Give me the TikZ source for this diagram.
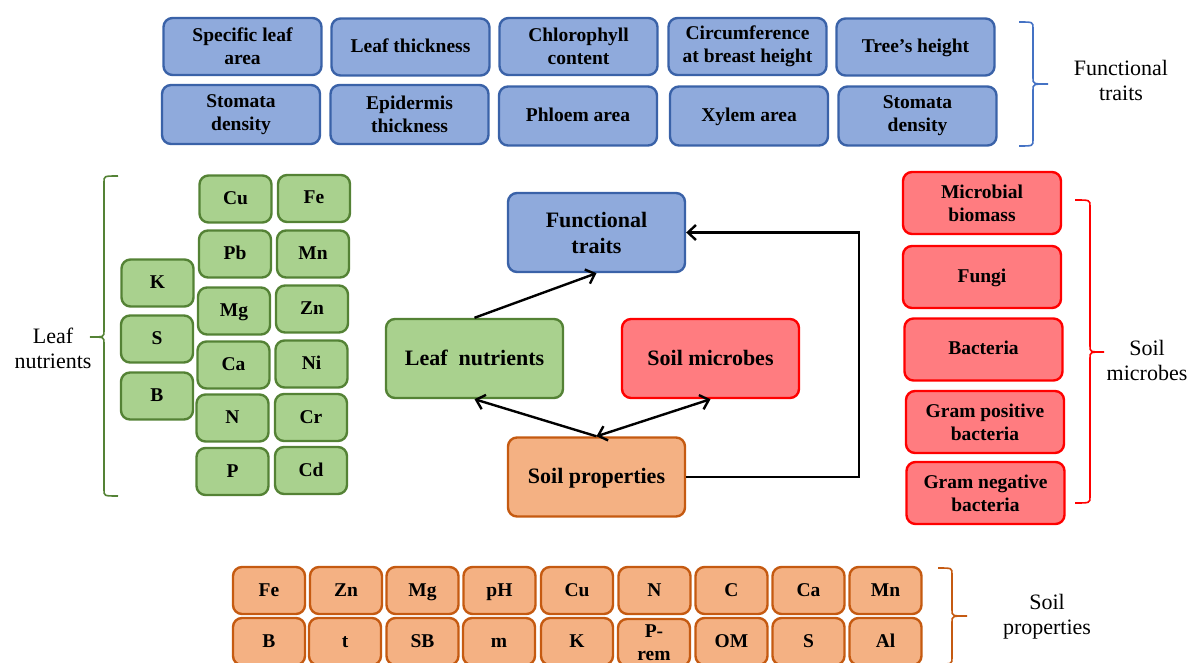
\documentclass[tikz,border=0pt]{standalone}
\usepackage{fontspec}
\setmainfont{Liberation Serif}
\usetikzlibrary{arrows.meta}
\definecolor{bfill}{HTML}{8FAADC}
\definecolor{bline}{HTML}{3A62A8}
\definecolor{bbrace}{HTML}{4472C4}
\definecolor{gfill}{HTML}{A9D18E}
\definecolor{gline}{HTML}{548235}
\definecolor{rfill}{HTML}{FF7C80}
\definecolor{rline}{HTML}{FF0000}
\definecolor{ofill}{HTML}{F4B183}
\definecolor{oline}{HTML}{C55A11}
\tikzset{
  box/.style={rectangle, rounded corners=9pt, line width=2.4pt, inner sep=0pt, align=center,
    font=\bfseries\fontsize{19.5}{23}\selectfont},
  oneline/.style={text height=12pt, text depth=1pt},
  bigline/.style={text height=14pt, text depth=1pt},
  bluebox/.style={box, fill=bfill, draw=bline, minimum width=158pt},
  greenbox/.style={box, oneline, fill=gfill, draw=gline, minimum width=72pt, minimum height=47pt},
  redbox/.style={box, fill=rfill, draw=rline, minimum width=158pt, minimum height=62pt},
  orangebox/.style={box, fill=ofill, draw=oline, minimum width=72pt, minimum height=47pt},
  mainbox/.style={box, minimum width=177pt, minimum height=79pt, font=\bfseries\fontsize{22}{26}\selectfont},
  sidelabel/.style={align=center, inner sep=0pt, font=\fontsize{22}{25}\selectfont},
  bracestyle/.style={line width=1.6pt},
  arr/.style={line width=2.4pt, -{Straight Barb[length=8pt,width=15pt]}},
  dblarr/.style={line width=2.4pt, {Straight Barb[length=8pt,width=15pt]}-{Straight Barb[length=8pt,width=15pt]}}
}
\begin{document}
\begin{tikzpicture}[x=1pt,y=-1pt]
\useasboundingbox (0,0) rectangle (1187,663);
\clip (0,0) rectangle (1187,663);

% ---- top functional traits
\node[bluebox, minimum height=57pt] (t1) at (242.5,46.5) {Specific leaf\\area};
\node[bluebox, minimum height=57pt, oneline] (t2) at (410.5,47) {Leaf thickness};
\node[bluebox, minimum height=57pt] (t3) at (578.5,46.5) {Chlorophyll\\content};
\node[bluebox, minimum height=57pt] (t4) at (747.5,46.5) {Circumference\\at breast height};
\node[bluebox, minimum height=57pt, oneline] (t5) at (915.5,47) {Tree’s height};
\node[bluebox, minimum height=59pt] (t6) at (241,114.5) {Stomata\\density};
\node[bluebox, minimum height=59pt] (t7) at (409.5,114.5) {Epidermis\\thickness};
\node[bluebox, minimum height=59pt, oneline] (t8) at (578,116) {Phloem area};
\node[bluebox, minimum height=59pt, oneline] (t9) at (749,116) {Xylem area};
\node[bluebox, minimum height=59pt] (t10) at (917.5,116) {Stomata\\density};
\draw[bracestyle, draw=bbrace] (1019,22) .. controls (1033,22) .. (1033,28) -- (1033,78) .. controls (1033,84) .. (1048,84)
  (1048,84) .. controls (1033,84) .. (1033,90) -- (1033,140) .. controls (1033,146) .. (1019,146);
\node[sidelabel] (ftlab) at (1121,80) {Functional\\traits};

% ---- leaf nutrients
\node[greenbox] (lK) at (157.5,283) {K};
\node[greenbox] (lS) at (157,339) {S};
\node[greenbox] (lB) at (157,396) {B};
\node[greenbox] (lCu) at (235.5,199) {Cu};
\node[greenbox] (lPb) at (235,254) {Pb};
\node[greenbox] (lMg) at (234,311) {Mg};
\node[greenbox] (lCa) at (233.5,365) {Ca};
\node[greenbox] (lN) at (232.5,418) {N};
\node[greenbox] (lP) at (232.5,471.5) {P};
\node[greenbox] (lFe) at (314,198.5) {Fe};
\node[greenbox] (lMn) at (313,254) {Mn};
\node[greenbox] (lZn) at (312,309) {Zn};
\node[greenbox] (lNi) at (311.5,364) {Ni};
\node[greenbox] (lCr) at (311,417.5) {Cr};
\node[greenbox] (lCd) at (311,470.5) {Cd};
\draw[bracestyle, draw=gline] (118,176) .. controls (104,176) .. (104,182) -- (104,331) .. controls (104,337) .. (90,337)
  (90,337) .. controls (104,337) .. (104,343) -- (104,490) .. controls (104,496) .. (118,496);
\node[sidelabel] (lnlab) at (53,348) {Leaf\\nutrients};

% ---- centre
\node[mainbox, fill=bfill, draw=bline] (ft) at (596.5,232.5) {Functional\\traits};
\node[mainbox, fill=gfill, draw=gline, bigline] (ln) at (474.5,358.5) {Leaf\ \ nutrients};
\node[mainbox, fill=rfill, draw=rline, bigline] (sm) at (710.5,358.5) {Soil microbes};
\node[mainbox, fill=ofill, draw=oline, bigline] (sp) at (596.5,477) {Soil properties};
\coordinate (loop) at (859,477);
\draw[arr] (ln.north) -- (ft.south);
\draw[arr] (sp.north) -- (ln.south);
\draw[dblarr] (sp.north) -- (sm.south);
\draw[arr] (sp.east) -- (loop) |- (ft.east);

% ---- soil microbes
\node[redbox] (mb) at (982,203) {Microbial\\biomass};
\node[redbox, oneline] (mf) at (982,277) {Fungi};
\node[redbox, oneline] (mba) at (983.5,349.5) {Bacteria};
\node[redbox] (mgp) at (985,422) {Gram positive\\bacteria};
\node[redbox] (mgn) at (985.5,493) {Gram negative\\bacteria};
\draw[bracestyle, draw=rline] (1075,200) .. controls (1090,200) .. (1090,206) -- (1090,346) .. controls (1090,352) .. (1104,352)
  (1104,352) .. controls (1090,352) .. (1090,358) -- (1090,497) .. controls (1090,503) .. (1075,503);
\node[sidelabel] (smlab) at (1147,360) {Soil\\microbes};

% ---- soil properties
\node[orangebox, oneline] (s1) at (269,590.5) {Fe};
\node[orangebox, oneline] (s2) at (346,590.5) {Zn};
\node[orangebox, oneline] (s3) at (422.5,590.5) {Mg};
\node[orangebox, oneline] (s4) at (499.5,590.5) {pH};
\node[orangebox, oneline] (s5) at (577,590.5) {Cu};
\node[orangebox, oneline] (s6) at (654.5,590.5) {N};
\node[orangebox, oneline] (s7) at (731.5,590.5) {C};
\node[orangebox, oneline] (s8) at (808.5,590.5) {Ca};
\node[orangebox, oneline] (s9) at (885.5,590.5) {Mn};
\node[orangebox, oneline] (s10) at (269,641.5) {B};
\node[orangebox, oneline] (s11) at (345,641.5) {t};
\node[orangebox, oneline] (s12) at (422.5,641.5) {SB};
\node[orangebox, oneline] (s13) at (499,641.5) {m};
\node[orangebox, oneline] (s14) at (577,641.5) {K};
\node[orangebox] (s15) at (654,642.5) {P-\\rem};
\node[orangebox, oneline] (s16) at (731.5,641.5) {OM};
\node[orangebox, oneline] (s17) at (808.5,641.5) {S};
\node[orangebox, oneline] (s18) at (885.5,641.5) {Al};
\draw[bracestyle, draw=oline] (938,568) .. controls (952,568) .. (952,574) -- (952,610) .. controls (952,616) .. (967,616)
  (967,616) .. controls (952,616) .. (952,622) -- (952,658) .. controls (952,664) .. (938,664);
\node[sidelabel] (splab) at (1047,617) {Soil\\properties};
\end{tikzpicture}
\end{document}
